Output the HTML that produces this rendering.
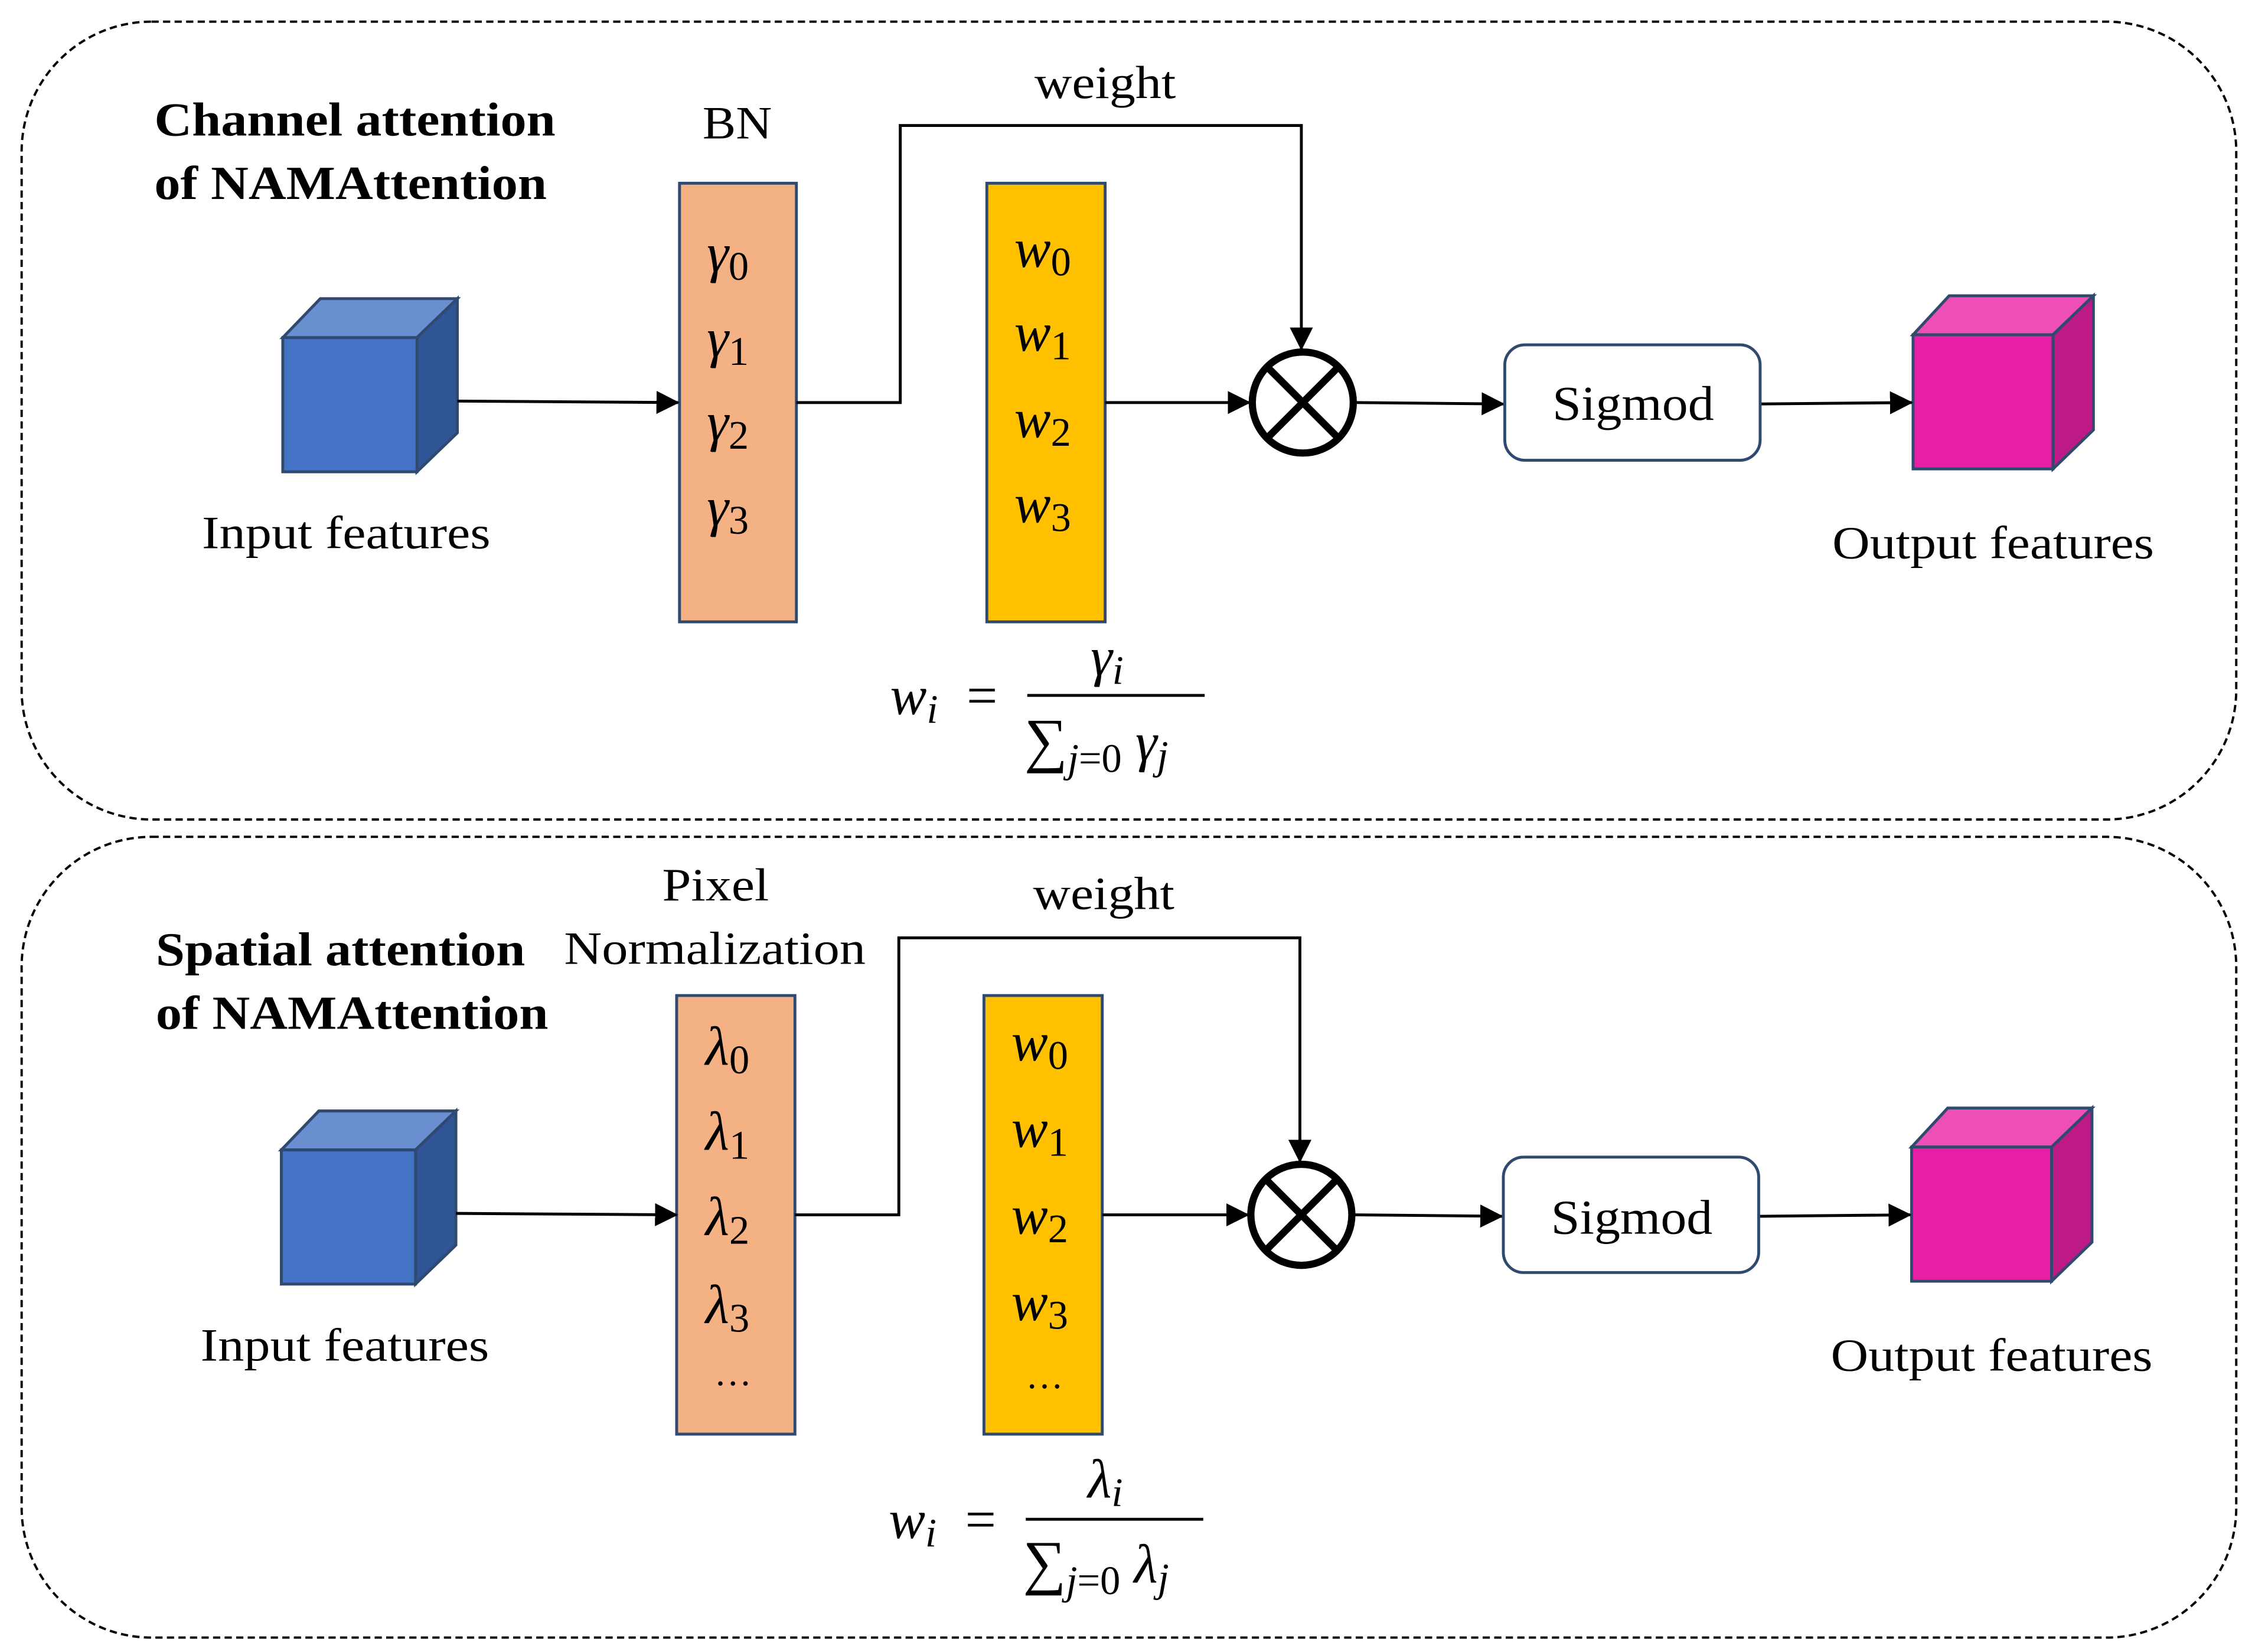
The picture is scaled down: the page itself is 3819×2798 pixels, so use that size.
<!DOCTYPE html>
<html><head><meta charset="utf-8"><style>html,body{margin:0;padding:0;background:#fff}svg{display:block}</style></head>
<body>
<svg width="3819" height="2798" viewBox="0 0 1563 1145" preserveAspectRatio="none" xmlns="http://www.w3.org/2000/svg" font-family="Liberation Serif, serif">
<defs>
<marker id="b" markerWidth="16" markerHeight="16" refX="15" refY="8" orient="auto" markerUnits="userSpaceOnUse" viewBox="0 0 16 16"><path d="M0,0 L16,8 L0,16 z" fill="#000"/></marker></defs>
<rect x="15" y="15" width="1535" height="553" rx="90" fill="none" stroke="#000" stroke-width="1.6" stroke-dasharray="5,3"/>
<rect x="15" y="580" width="1535" height="555" rx="90" fill="none" stroke="#000" stroke-width="1.6" stroke-dasharray="5,3"/>
<g>
<text x="107" y="94" font-size="33" font-weight="bold" textLength="278" lengthAdjust="spacingAndGlyphs">Channel attention</text>
<text x="107" y="138" font-size="33" font-weight="bold" textLength="272" lengthAdjust="spacingAndGlyphs">of NAMAttention</text>
<text x="487" y="96" font-size="32" textLength="48" lengthAdjust="spacingAndGlyphs">BN</text>
<text x="717" y="68" font-size="32" textLength="98" lengthAdjust="spacingAndGlyphs">weight</text>
<rect x="471" y="127" width="81" height="304" fill="#F4B183" stroke="#2F4A6E" stroke-width="2"/>
<rect x="684" y="127" width="82" height="304" fill="#FFC000" stroke="#2F4A6E" stroke-width="2"/>
<g font-size="38" font-style="italic"><text x="490" y="188">γ<tspan font-size="28" font-style="normal" dy="6">0</tspan></text><text x="490" y="247">γ<tspan font-size="28" font-style="normal" dy="6">1</tspan></text><text x="490" y="305">γ<tspan font-size="28" font-style="normal" dy="6">2</tspan></text><text x="490" y="364">γ<tspan font-size="28" font-style="normal" dy="6">3</tspan></text>
<text x="703" y="185">w<tspan font-size="28" font-style="normal" dy="6">0</tspan></text><text x="703" y="243">w<tspan font-size="28" font-style="normal" dy="6">1</tspan></text><text x="703" y="303">w<tspan font-size="28" font-style="normal" dy="6">2</tspan></text><text x="703" y="362">w<tspan font-size="28" font-style="normal" dy="6">3</tspan></text>
<text x="617" y="495">w<tspan font-size="28" dy="6">i</tspan></text><text x="756" y="468">γ<tspan font-size="28" dy="6">i</tspan></text>
<text x="710" y="527"><tspan font-style="normal" font-size="42">∑</tspan><tspan font-size="28" dy="8">j</tspan><tspan font-size="28" font-style="normal">=0</tspan><tspan dy="-8"> γ</tspan><tspan font-size="28" dy="6">j</tspan></text></g>
<text x="670" y="495" font-size="38">=</text>
<line x1="712" y1="482" x2="835" y2="482" stroke="#000" stroke-width="2"/>
<polygon points="196,234 222,207 317,207 289,234" fill="#6A8FD0" stroke="#2F4A6E" stroke-width="2"/>
<polygon points="289,234 317,207 317,300 289,327" fill="#2F5597" stroke="#2F4A6E" stroke-width="2"/>
<rect x="196" y="234" width="93" height="93" fill="#4472C4" stroke="#2F4A6E" stroke-width="2"/>
<polygon points="1326,232 1351,205 1451,205 1423,232" fill="#EE4FB5" stroke="#2F4A6E" stroke-width="2"/>
<polygon points="1423,232 1451,205 1451,298 1423,325" fill="#BD1A85" stroke="#2F4A6E" stroke-width="2"/>
<rect x="1326" y="232" width="97" height="93" fill="#E71FA5" stroke="#2F4A6E" stroke-width="2"/>
<text x="140" y="380" font-size="32" textLength="200" lengthAdjust="spacingAndGlyphs">Input features</text>
<text x="1270" y="387" font-size="32" textLength="223" lengthAdjust="spacingAndGlyphs">Output features</text>
<g stroke="#000" stroke-width="2" fill="none">
<line x1="317" y1="278" x2="470" y2="279" marker-end="url(#b)"/>
<polyline points="552,279 624,279 624,87 902,87 902,242" marker-end="url(#b)"/>
<line x1="766" y1="279" x2="866" y2="279" marker-end="url(#b)"/>
<line x1="940" y1="279" x2="1042" y2="280" marker-end="url(#b)"/>
<line x1="1220" y1="280" x2="1325" y2="279" marker-end="url(#b)"/>
</g>
<circle cx="903" cy="279" r="35" fill="#fff" stroke="#000" stroke-width="5"/>
<line x1="878" y1="254" x2="928" y2="304" stroke="#000" stroke-width="5"/><line x1="928" y1="254" x2="878" y2="304" stroke="#000" stroke-width="5"/>
<rect x="1043" y="239" width="177" height="80" rx="14" fill="#fff" stroke="#2F4A6E" stroke-width="2"/>
<text x="1076" y="291" font-size="34" textLength="112" lengthAdjust="spacingAndGlyphs">Sigmod</text>
</g>
<g>
<text x="108" y="669" font-size="33" font-weight="bold" textLength="256" lengthAdjust="spacingAndGlyphs">Spatial attention</text>
<text x="108" y="713" font-size="33" font-weight="bold" textLength="272" lengthAdjust="spacingAndGlyphs">of NAMAttention</text>
<text x="459" y="624" font-size="32" textLength="74" lengthAdjust="spacingAndGlyphs">Pixel</text>
<text x="391" y="668" font-size="32" textLength="209" lengthAdjust="spacingAndGlyphs">Normalization</text>
<text x="716" y="630" font-size="32" textLength="98" lengthAdjust="spacingAndGlyphs">weight</text>
<rect x="469" y="690" width="82" height="304" fill="#F4B183" stroke="#2F4A6E" stroke-width="2"/>
<rect x="682" y="690" width="82" height="304" fill="#FFC000" stroke="#2F4A6E" stroke-width="2"/>
<g font-size="38" font-style="italic"><text x="489" y="738">λ<tspan font-size="28" font-style="normal" dy="6">0</tspan></text><text x="489" y="797">λ<tspan font-size="28" font-style="normal" dy="6">1</tspan></text><text x="489" y="856">λ<tspan font-size="28" font-style="normal" dy="6">2</tspan></text><text x="489" y="917">λ<tspan font-size="28" font-style="normal" dy="6">3</tspan></text>
<text x="701" y="735">w<tspan font-size="28" font-style="normal" dy="6">0</tspan></text><text x="701" y="795">w<tspan font-size="28" font-style="normal" dy="6">1</tspan></text><text x="701" y="855">w<tspan font-size="28" font-style="normal" dy="6">2</tspan></text><text x="701" y="915">w<tspan font-size="28" font-style="normal" dy="6">3</tspan></text>
<text x="616" y="1066">w<tspan font-size="28" dy="6">i</tspan></text><text x="754" y="1038">λ<tspan font-size="28" dy="6">i</tspan></text>
<text x="709" y="1097"><tspan font-style="normal" font-size="42">∑</tspan><tspan font-size="28" dy="8">j</tspan><tspan font-size="28" font-style="normal">=0</tspan><tspan dy="-8"> λ</tspan><tspan font-size="28" dy="6">j</tspan></text></g>
<text x="508" y="960" font-size="26" text-anchor="middle">…</text>
<text x="724" y="962" font-size="26" text-anchor="middle">…</text>
<text x="669" y="1066" font-size="38">=</text>
<line x1="711" y1="1053" x2="834" y2="1053" stroke="#000" stroke-width="2"/>
<polygon points="195,797 221,770 316,770 288,797" fill="#6A8FD0" stroke="#2F4A6E" stroke-width="2"/>
<polygon points="288,797 316,770 316,863 288,890" fill="#2F5597" stroke="#2F4A6E" stroke-width="2"/>
<rect x="195" y="797" width="93" height="93" fill="#4472C4" stroke="#2F4A6E" stroke-width="2"/>
<polygon points="1325,795 1350,768 1450,768 1422,795" fill="#EE4FB5" stroke="#2F4A6E" stroke-width="2"/>
<polygon points="1422,795 1450,768 1450,861 1422,888" fill="#BD1A85" stroke="#2F4A6E" stroke-width="2"/>
<rect x="1325" y="795" width="97" height="93" fill="#E71FA5" stroke="#2F4A6E" stroke-width="2"/>
<text x="139" y="943" font-size="32" textLength="200" lengthAdjust="spacingAndGlyphs">Input features</text>
<text x="1269" y="950" font-size="32" textLength="223" lengthAdjust="spacingAndGlyphs">Output features</text>
<g stroke="#000" stroke-width="2" fill="none">
<line x1="316" y1="841" x2="469" y2="842" marker-end="url(#b)"/>
<polyline points="551,842 623,842 623,650 901,650 901,805" marker-end="url(#b)"/>
<line x1="764" y1="842" x2="865" y2="842" marker-end="url(#b)"/>
<line x1="939" y1="842" x2="1041" y2="843" marker-end="url(#b)"/>
<line x1="1219" y1="843" x2="1324" y2="842" marker-end="url(#b)"/>
</g>
<circle cx="902" cy="842" r="35" fill="#fff" stroke="#000" stroke-width="5"/>
<line x1="877" y1="817" x2="927" y2="867" stroke="#000" stroke-width="5"/><line x1="927" y1="817" x2="877" y2="867" stroke="#000" stroke-width="5"/>
<rect x="1042" y="802" width="177" height="80" rx="14" fill="#fff" stroke="#2F4A6E" stroke-width="2"/>
<text x="1075" y="855" font-size="34" textLength="112" lengthAdjust="spacingAndGlyphs">Sigmod</text>
</g>
</svg>
</body></html>
